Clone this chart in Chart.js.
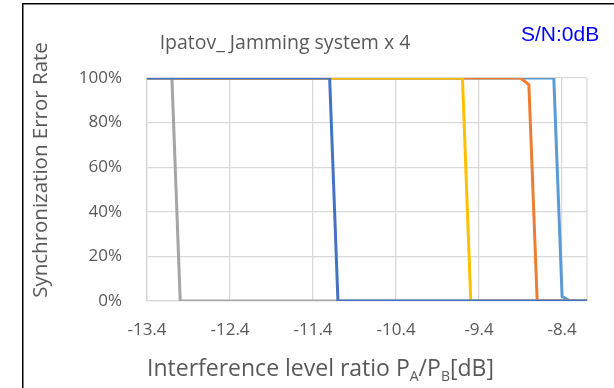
<!DOCTYPE html>
<html><head><meta charset="utf-8">
<script src="https://cdn.jsdelivr.net/npm/chart.js@4.4.1/dist/chart.umd.min.js"></script>
<style>html,body{margin:0;padding:0;background:#fff;}canvas{display:block;}</style>
</head><body>
<canvas id="c" width="614" height="388"></canvas>
<script>
// ---- data ----
const xTickValues = [-13.4, -12.4, -11.4, -10.4, -9.4, -8.4];
const xTickLabels = ['-13.4', '-12.4', '-11.4', '-10.4', '-9.4', '-8.4'];
const yTickLabels = ['0%', '20%', '40%', '60%', '80%', '100%'];

const blueX = [-13.4, -11.2, -11.1, -8.1];
const blueY = [100, 100, 0, 0];
const grayX = [-13.4, -13.1, -13.0, -8.1];
const grayY = [100, 100, 0, 0];
const yellowX = [-13.4, -9.6, -9.5, -8.1];
const yellowY = [100, 100, 0, 0];
const orangeX = [-13.4, -8.9, -8.8, -8.7, -8.1];
const orangeY = [100, 100, 97, 0, 0];
const lightBlueX = [-13.4, -8.5, -8.4, -8.3, -8.1];
const lightBlueY = [100, 100, 2, 0, 0];

const titleText = 'Ipatov_ Jamming system x 4';
const noteText = 'S/N:0dB';
const yTitleText = 'Synchronization Error Rate';

const pts = (xs, ys) => xs.map((x, i) => ({x: x, y: ys[i]}));
const FONT = "'Open Sans', sans-serif";
const TXT = '#595959';
const GRID = '#D9D9D9';

function ds(label, xs, ys, color) {
  return {label, data: pts(xs, ys), borderColor: color, backgroundColor: color,
    borderWidth: 3, pointRadius: 0, tension: 0, fill: false,
    borderJoinStyle: 'round', borderCapStyle: 'round'};
}

const deco = {
  id: 'deco',
  beforeDraw(chart) {
    const ctx = chart.ctx;
    ctx.save();
    ctx.fillStyle = '#fff';
    ctx.fillRect(0, 0, chart.width, chart.height);
    ctx.restore();
  },
  beforeDatasetsDraw(chart) {
    const {ctx, chartArea: a} = chart;
    ctx.save();
    ctx.strokeStyle = GRID; ctx.lineWidth = 1.3;
    ctx.beginPath(); ctx.moveTo(a.right, a.top); ctx.lineTo(a.right, a.bottom); ctx.stroke();
    ctx.restore();
  },
  afterDraw(chart) {
    const {ctx, chartArea: a} = chart;
    ctx.save();
    // outer frame
    ctx.strokeStyle = '#000'; ctx.lineWidth = 1.5;
    ctx.strokeRect(22.75, 3.75, 800, 600);
    // title
    ctx.fillStyle = TXT; ctx.font = "19.5px " + FONT;
    ctx.textAlign = 'center'; ctx.textBaseline = 'alphabetic';
    ctx.fillText(titleText, 285, 49);
    // S/N note
    ctx.fillStyle = '#0000FF'; ctx.font = "21px 'Liberation Sans', Arial, sans-serif";
    ctx.textAlign = 'left';
    ctx.fillText(noteText, 521, 41);
    // y title
    ctx.fillStyle = TXT; ctx.font = "20.5px " + FONT;
    ctx.save();
    ctx.translate(41, 170);
    ctx.rotate(-Math.PI / 2);
    ctx.textAlign = 'center'; ctx.textBaseline = 'middle';
    ctx.fillText(yTitleText, 0, 0);
    ctx.restore();
    // x title with subscripts
    const parts = [['Interference level ratio P', 0], ['A', 1], ['/P', 0], ['B', 1], ['[dB]', 0]];
    const big = "23px " + FONT, small = "14px " + FONT;
    let x = 147;
    ctx.textAlign = 'left'; ctx.textBaseline = 'alphabetic';
    parts.forEach(p => {
      ctx.font = p[1] ? small : big;
      ctx.fillText(p[0], x, p[1] ? 381 : 376);
      x += ctx.measureText(p[0]).width;
    });
    ctx.restore();
  }
};

new Chart(document.getElementById('c'), {
  type: 'line',
  data: {
    datasets: [
      ds('Series 1', blueX, blueY, '#4472C4'),
      ds('Series 3', grayX, grayY, '#A5A5A5'),
      ds('Series 4', yellowX, yellowY, '#FFC000'),
      ds('Series 2', orangeX, orangeY, '#ED7D31'),
      ds('Series 5', lightBlueX, lightBlueY, '#5B9BD5')
    ]
  },
  options: {
    responsive: false, animation: false, events: [],
    layout: {padding: {left: 0, top: 78, right: 27, bottom: 0}},
    plugins: {legend: {display: false}, title: {display: false}, tooltip: {enabled: false}},
    scales: {
      x: {
        type: 'linear', min: -13.4, max: -8.1,
        afterBuildTicks: s => { s.ticks = xTickValues.map(v => ({value: v})); },
        afterFit: s => { s.height = 87; },
        grid: {color: GRID, lineWidth: 1.3, drawTicks: false},
        border: {color: GRID, width: 1.3},
        ticks: {autoSkip: false, maxRotation: 0, padding: 19, color: TXT,
          font: {family: FONT, size: 17},
          callback: (v, i) => xTickLabels[i]}
      },
      y: {
        min: 0, max: 100,
        afterBuildTicks: s => { s.ticks = yTickLabels.map((t, i) => ({value: i * 20})); },
        afterFit: s => { s.width = 147; },
        grid: {color: GRID, lineWidth: 1.3, drawTicks: false},
        border: {color: GRID, width: 1.3},
        ticks: {padding: 25, color: TXT, font: {family: FONT, size: 17},
          callback: (v, i) => yTickLabels[i]}
      }
    }
  },
  plugins: [deco]
});
</script>
</body></html>
